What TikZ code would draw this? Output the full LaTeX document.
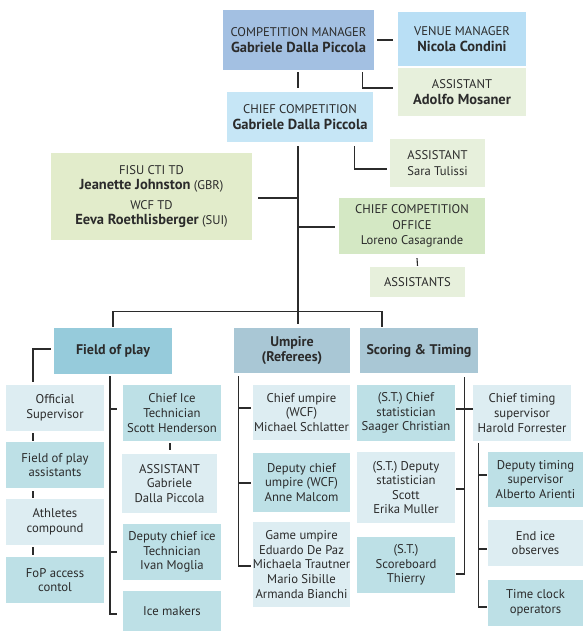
\documentclass[tikz,border=0pt]{standalone}
\usepackage{fontspec}
\setmainfont{PT Sans}
\usetikzlibrary{calc}
\definecolor{txt}{HTML}{2B2B2B}
\definecolor{cmblue}{HTML}{A3C0E2}
\definecolor{vmblue}{HTML}{B9DFF5}
\definecolor{chblue}{HTML}{C6E6F6}
\definecolor{asgreen}{HTML}{E7F0DC}
\definecolor{tdgreen}{HTML}{E2ECCB}
\definecolor{cogreen}{HTML}{D4E8C4}
\definecolor{fopteal}{HTML}{96CBDB}
\definecolor{headgray}{HTML}{A9C7D5}
\definecolor{tealL}{HTML}{BDE0E6}
\definecolor{paleL}{HTML}{DDEDF2}
\tikzset{
  box/.style={inner sep=0pt, align=center, text=txt, font=\fontsize{12.7}{14.6}\selectfont},
  topbox/.style={box, font=\fontsize{12.6}{15.5}\selectfont},
  headbox/.style={box, font=\fontsize{14}{15.5}\selectfont\bfseries},
  conn/.style={draw=txt, line width=1.1pt},
}
\newcommand{\nmb}[1]{{\fontsize{14.5}{15.5}\selectfont\bfseries #1}}
\begin{document}
\begin{tikzpicture}[x=1pt,y=-1pt]
\useasboundingbox (0,0) rectangle (583,631);
% top level
\node[topbox, fill=cmblue, minimum width=151pt, minimum height=60pt] (cm) at (298.5,40) {COMPETITION MANAGER\\\nmb{Gabriele Dalla Piccola}};
\node[topbox, fill=vmblue, minimum width=128pt, minimum height=54pt] (vm) at (462,39) {VENUE MANAGER\\\nmb{Nicola Condini}};
\node[topbox, fill=asgreen, minimum width=128pt, minimum height=48pt] (as1) at (462,92) {ASSISTANT\\\nmb{Adolfo Mosaner}};
\node[topbox, fill=chblue, minimum width=146pt, minimum height=50pt] (chief) at (300,117) {CHIEF COMPETITION\\\nmb{Gabriele Dalla Piccola}};
\node[topbox, fill=asgreen, minimum width=95pt, minimum height=48pt] (sara) at (437.5,163) {ASSISTANT\\Sara Tulissi};
\node[topbox, fill=tdgreen, minimum width=201pt, minimum height=87pt] (fisu) at (151.5,196.5) {FISU CTI TD\\\nmb{Jeanette Johnston} (GBR)\\[4pt]WCF TD\\\nmb{Eeva Roethlisberger} (SUI)};
\node[topbox, fill=cogreen, minimum width=146pt, minimum height=56pt] (cco) at (412,226) {CHIEF COMPETITION\\OFFICE\\Loreno Casagrande};
\node[topbox, fill=asgreen, minimum width=95pt, minimum height=30pt] (assts) at (417.5,282) {ASSISTANTS};
% section heads
\node[headbox, fill=fopteal, minimum width=118pt, minimum height=46pt] (fop) at (113,351) {Field of play};
\node[headbox, fill=headgray, minimum width=116pt, minimum height=45pt] (ump) at (292,350.5) {Umpire\\(Referees)};
\node[headbox, fill=headgray, minimum width=118pt, minimum height=45pt] (sct) at (419,350.5) {Scoring \& Timing};
% field of play left column
\node[box, fill=paleL, minimum width=98pt, minimum height=46pt] (os) at (55,408) {Official\\Supervisor};
\node[box, fill=tealL, minimum width=98pt, minimum height=46pt] (fpa) at (55,465) {Field of play\\assistants};
\node[box, fill=paleL, minimum width=98pt, minimum height=46pt] (ac) at (55,522) {Athletes\\compound};
\node[box, fill=tealL, minimum width=98pt, minimum height=46pt] (fac) at (55,580) {FoP access\\contol};
% field of play right column
\node[box, fill=tealL, minimum width=98pt, minimum height=56pt] (cit) at (172,413) {Chief Ice\\Technician\\Scott Henderson};
\node[box, fill=paleL, minimum width=95pt, minimum height=59pt] (ag) at (169.5,483.5) {ASSISTANT\\Gabriele\\Dalla Piccola};
\node[box, fill=tealL, minimum width=98pt, minimum height=56pt] (dci) at (172,552) {Deputy chief ice\\Technician\\Ivan Moglia};
\node[box, fill=tealL, minimum width=98pt, minimum height=40pt] (im) at (172,611) {Ice makers};
% umpire column
\node[box, fill=paleL, minimum width=97pt, minimum height=55pt] (cu) at (301.5,412.5) {Chief umpire\\(WCF)\\Michael Schlatter};
\node[box, fill=tealL, minimum width=97pt, minimum height=59pt] (dcu) at (301.5,482.5) {Deputy chief\\umpire (WCF)\\Anne Malcom};
\node[box, fill=paleL, minimum width=97pt, minimum height=85pt] (gu) at (301.5,564.5) {Game umpire\\Eduardo De Paz\\Michaela Trautner\\Mario Sibille\\Armanda Bianchi};
% scoring column
\node[box, fill=tealL, minimum width=98pt, minimum height=56pt] (stc) at (406,413) {(S.T.) Chief\\statistician\\Saager Christian};
\node[box, fill=paleL, minimum width=98pt, minimum height=71pt] (std) at (406,487.5) {(S.T.) Deputy\\statistician\\Scott\\Erika Muller};
\node[box, fill=tealL, minimum width=98pt, minimum height=56pt] (stsb) at (406,565) {(S.T.)\\Scoreboard\\Thierry};
\node[box, fill=paleL, minimum width=98pt, minimum height=56pt] (cts) at (522,413) {Chief timing\\supervisor\\Harold Forrester};
\node[box, fill=tealL, minimum width=95pt, minimum height=55pt] (dts) at (535.5,479.5) {Deputy timing\\supervisor\\Alberto Arienti};
\node[box, fill=paleL, minimum width=95pt, minimum height=46pt] (eio) at (535.5,543) {End ice\\observes};
\node[box, fill=tealL, minimum width=95pt, minimum height=46pt] (tco) at (535.5,603) {Time clock\\operators};
% ---------------- connectors
\coordinate (mv) at ($(chief.south)+(-2,0)$);
\draw[conn] ($(cm.east)+(3,0)$) -- ($(vm.west)+(-5,1)$);
\draw[conn] ($(cm.south east)+(-12,2)$) |- ($(as1.west)+(-5,-4)$);
\draw[conn] ($(cm.south)+(-0.5,2)$) -- ($(cm.south)+(-0.5,18)$);
\draw[conn] ($(mv)+(0,4)$) -- ($(mv |- ump.north)+(0,-4)$);
\draw[conn] ($(chief.south east)+(-19,4)$) |- ($(sara.west)+(-3,6)$);
\draw[conn] ($(fisu.east)+(6,1.5)$) -- ($(mv |- fisu.east)+(0,1.5)$);
\draw[conn] ($(mv |- cco.west)+(0,1)$) -- ($(cco.west)+(-4,1)$);
\draw[conn] ($(cco.south)+(5,4)$) -- ($(assts.north)+(0,-1)$);
% bus
\draw[conn] ($(fop.north)+(0,-1)$) -- ($(fop.north)+(0,-16)$) -- ($(sct.north)+(-37,-16)$) -- ($(sct.north)+(-37,-1)$);
% field of play
\draw[conn] ($(fop.west)+(-3,-2)$) -| ($(os.north)+(-22,-3)$);
\draw[conn] ($(os.south)+(-22,2)$) -- ($(fpa.north)+(-22,-1)$);
\draw[conn] ($(fpa.south)+(-22,3)$) -- ($(ac.north)+(-22,-1)$);
\draw[conn] ($(ac.south)+(-22,2)$) -- ($(fac.north)+(-22,-2)$);
\draw[conn] ($(fop.south)+(-3,2)$) |- ($(im.west)+(-6,3)$);
\draw[conn] ($(fop.south |- cit.west)+(-3,-4)$) -- ($(cit.west)+(-6,-4)$);
\draw[conn] ($(fop.south |- dci.west)+(-3,0)$) -- ($(dci.west)+(-6,0)$);
\draw[conn] ($(cit.south)+(-2,2)$) -- ($(ag.north)+(0.5,-4)$);
% umpire
\draw[conn] ($(ump.south west)+(5,3)$) |- ($(gu.west)+(-2,1.5)$);
\draw[conn] ($(ump.south west |- cu.west)+(5,-4.5)$) -- ($(cu.west)+(-2,-4.5)$);
\draw[conn] ($(ump.south west |- dcu.west)+(5,0.5)$) -- ($(dcu.west)+(-2,0.5)$);
% scoring
\draw[conn] ($(sct.south east)+(-14,4)$) |- ($(stsb.east)+(1,9)$);
\draw[conn] ($(stc.east)+(1,-4)$) -- ($(cts.west)+(0,-4)$);
\draw[conn] ($(sct.south east |- std.east)+(-14,1.5)$) -- ($(std.east)+(1,1.5)$);
\draw[conn] ($(cts.south west)+(6,2)$) |- ($(tco.west)+(-1,4)$);
\draw[conn] ($(cts.south west |- dts.west)+(6,-4.5)$) -- ($(dts.west)+(-1,-4.5)$);
\draw[conn] ($(cts.south west |- eio.west)+(6,6)$) -- ($(eio.west)+(-1,6)$);
\end{tikzpicture}
\end{document}
